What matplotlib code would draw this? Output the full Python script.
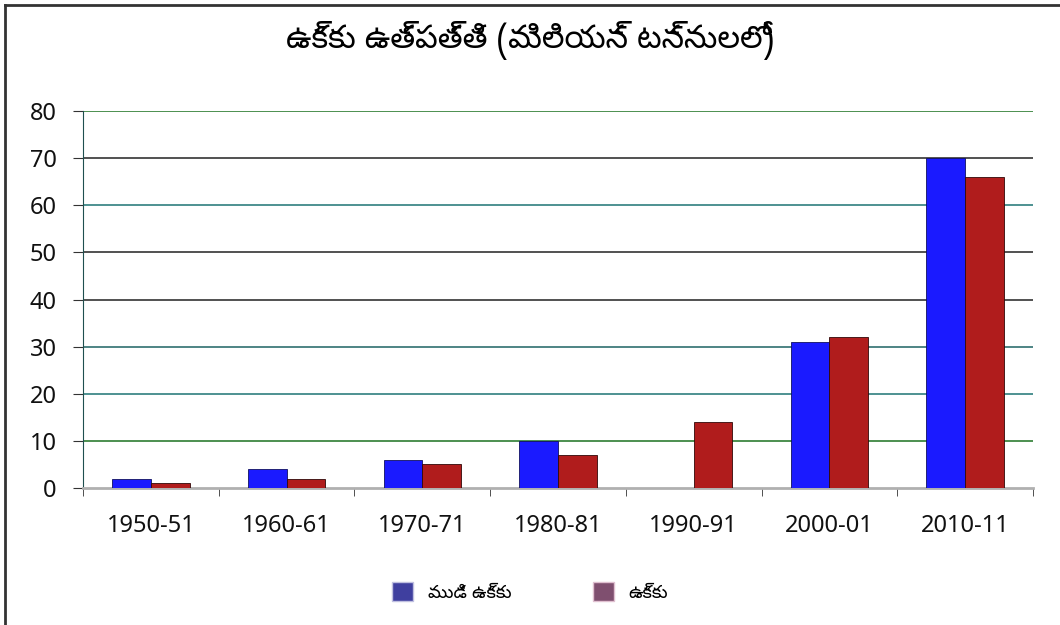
import numpy as np
import matplotlib.pyplot as plt
from matplotlib.patches import Patch

years = ['1950-51', '1960-61', '1970-71', '1980-81', '1990-91', '2000-01', '2010-11']
crude_steel = [2, 4, 6, 10, 0, 31, 70]
steel = [1, 2, 5, 7, 14, 32, 66]
title = 'ఉక్కు ఉత్పత్తి (మిలియన్ టన్నులలో)'
legend_labels = ['ముడి ఉక్కు', 'ఉక్కు']

plt.rcParams['font.family'] = ['Noto Sans', 'Noto Sans Telugu', 'DejaVu Sans']

fig = plt.figure(figsize=(10.6, 6.25), dpi=100)
ax = fig.add_axes([83 / 1060, 1 - 488 / 625, 950 / 1060, 377 / 625])

x = np.arange(len(years))
w = 0.285
ax.bar(x - w / 2, crude_steel, w, color='#1a1aff', edgecolor='#101060', linewidth=0.6, zorder=3)
ax.bar(x + w / 2, steel, w, color='#b01c1c', edgecolor='#300808', linewidth=0.6, zorder=3)

ax.set_xlim(-0.5, len(years) - 0.5)
ax.set_ylim(0, 80)
ax.set_yticks(range(0, 81, 10))
ax.set_yticklabels([str(v) for v in range(0, 81, 10)], fontsize=17, color='#111111')
grid_colors = ['#2e7d32', '#2f7f7f', '#2f7070', '#333333', '#333333', '#2f7f7f', '#333333', '#2e7d32']
for v, c in zip(range(10, 81, 10), grid_colors):
    ax.axhline(v, color=c, linewidth=1.2, zorder=1)

ax.set_xticks(x)
ax.set_xticklabels(years, fontsize=17, color='#111111')
ax.tick_params(axis='x', length=0, pad=19)
ax.set_xticks(np.arange(len(years) + 1) - 0.5, minor=True)
ax.tick_params(axis='x', which='minor', length=6, color='#333333', direction='out')
ax.tick_params(axis='y', length=7, color='#333333', pad=12)

for s in ['top', 'right']:
    ax.spines[s].set_visible(False)
ax.spines['left'].set_color('#1f4f4f')
ax.spines['bottom'].set_color('#b0b0b0')
ax.spines['bottom'].set_linewidth(2)

fig.text(0.5, 1 - 40 / 625, title, ha='center', va='center', fontsize=23, fontweight='bold',
         family=['Noto Sans Telugu', 'DejaVu Sans'])

handles = [Patch(facecolor='#3f3f9f', edgecolor='#c0c0e0'), Patch(facecolor='#7f4f6f', edgecolor='#e0c0d0')]
fig.legend(handles, legend_labels, loc='center', bbox_to_anchor=(0.5, 1 - 592 / 625), ncol=2,
           frameon=False, prop={'family': ['Noto Sans Telugu', 'DejaVu Sans'], 'size': 13},
           handlelength=1.2, handleheight=1.2, columnspacing=4.5)

fig.add_artist(plt.Line2D([5 / 1060, 5 / 1060], [0, 1 - 5 / 625], transform=fig.transFigure, color='#333333', linewidth=2))
fig.add_artist(plt.Line2D([5 / 1060, 1], [1 - 5 / 625, 1 - 5 / 625], transform=fig.transFigure, color='#333333', linewidth=2))

fig.savefig('out.png', dpi=100)
